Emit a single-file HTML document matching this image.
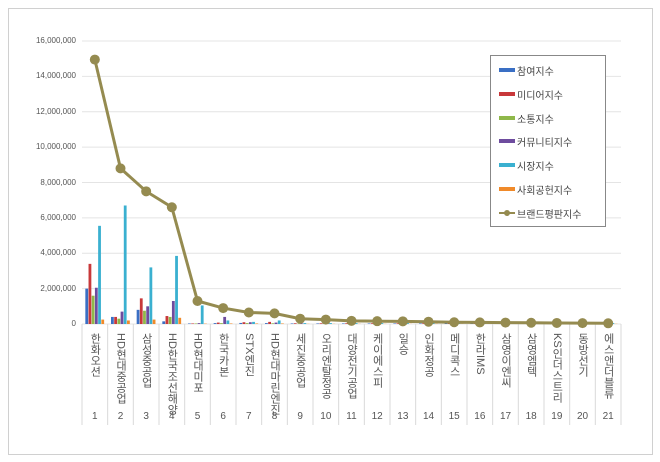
<!DOCTYPE html>
<html><head><meta charset="utf-8"><style>
body{margin:0;background:#fff;width:660px;height:462px;overflow:hidden;font-family:"Liberation Sans","Noto Sans CJK KR",sans-serif}
#c{position:absolute;left:0;top:0}
.lab{position:absolute;top:333px;writing-mode:vertical-rl;text-orientation:mixed;font-size:11px;color:#555;line-height:12px;font-family:"Liberation Sans","Noto Sans CJK KR",sans-serif;letter-spacing:0px}
.num{position:absolute;top:411px;font-size:10px;color:#555;width:26px;text-align:center}
.yl{position:absolute;font-size:8px;color:#555;text-align:right;width:70px;left:6px}
.lg{position:absolute;left:490px;top:55px;width:114px;height:170px;border:1px solid #888;background:#fff}
.li{position:absolute;left:26px;font-size:10px;color:#444}
.sw{position:absolute;left:-18px;top:5px;width:16px;height:4px}
</style></head><body>
<svg id="c" width="660" height="462"></svg>
<div id="h"></div>
<script>
const svg=document.getElementById('c');let s='';
s+='<rect x="8.5" y="8.5" width="644" height="446" fill="#fff" stroke="#d0d0d0"/>';
const x0=82,x1=621,yb=324,yt=41,cw=(x1-x0)/21;
const Y=v=>yb-(v/16e6)*(yb-yt);
let h='';
for(let i=0;i<=8;i++){const y=Y(i*2e6);s+=`<line x1="${x0}" x2="${x1}" y1="${y}" y2="${y}" stroke="#e4e4e4"/>`;
h+=`<div class="yl" style="top:${y-5}px">${(i*2e6).toLocaleString('en-US')}</div>`;}
for(let i=0;i<=21;i++){const x=x0+i*cw;s+=`<line x1="${x}" x2="${x}" y1="${yb}" y2="425" stroke="#d9d9d9"/>`;}
const cols=['#3a6fc4','#c8383a','#8fb84a','#6e4c9e','#3ab0d0','#f08a2a'];
const bars=[[2.0,3.4,1.6,2.05,5.55,0.25],[0.4,0.4,0.3,0.7,6.7,0.2],[0.8,1.45,0.75,1.0,3.2,0.25],[0.15,0.45,0.4,1.3,3.85,0.35],[0.03,0.03,0.03,0.05,1.05,0.02],[0.05,0.08,0.05,0.4,0.2,0.03],[0.06,0.1,0.05,0.1,0.12,0.03],[0.05,0.12,0.04,0.08,0.2,0.03]];
for(let i=0;i<21;i++){const b=bars[i]||[0.03,0.04,0.02,0.03,0.05,0.01];const cx=x0+i*cw+cw/2;
b.forEach((v,j)=>{const x=cx-9.5+j*3.2;s+=`<rect x="${x}" y="${Y(v*1e6)}" width="2.8" height="${yb-Y(v*1e6)}" fill="${cols[j]}"/>`;});}
const L=[14.95,8.8,7.5,6.6,1.3,0.9,0.65,0.6,0.3,0.25,0.18,0.16,0.15,0.13,0.1,0.09,0.08,0.07,0.06,0.05,0.04];
let p=L.map((v,i)=>`${x0+i*cw+cw/2},${Y(v*1e6)}`).join(' ');
s+=`<polyline points="${p}" fill="none" stroke="#958b50" stroke-width="3"/>`;
L.forEach((v,i)=>{s+=`<circle cx="${x0+i*cw+cw/2}" cy="${Y(v*1e6)}" r="5" fill="#958b50"/>`;});
svg.innerHTML=s;
const names=['한화오션','HD현대중공업','삼성중공업','HD한국조선해양','HD현대미포','한국카본','STX엔진','HD현대마린엔진','세진중공업','오리엔탈정공','대양전기공업','케이에스피','일승','인화정공','메디콕스','한라IMS','삼영이엔씨','삼영엠텍','KS인더스트리','동방선기','에스앤더블류'];
names.forEach((n,i)=>{const cx=x0+i*cw+cw/2;h+=`<div class="lab" style="left:${cx-6}px">${n}</div><div class="num" style="left:${cx-13}px">${i+1}</div>`;});
const lg=['참여지수','미디어지수','소통지수','커뮤니티지수','시장지수','사회공헌지수','브랜드평판지수'];
h+='<div class="lg">';
lg.forEach((n,i)=>{const sw=i<6?`<div class="sw" style="background:${cols[i]}"></div>`:`<div class="sw" style="background:#958b50;height:2px;top:6px"></div><div style="position:absolute;left:-13px;top:4px;width:6px;height:6px;border-radius:50%;background:#958b50"></div>`;
h+=`<div class="li" style="top:${7+i*23.8}px">${sw}${n}</div>`;});
h+='</div>';
document.getElementById('h').innerHTML=h;
</script>
</body></html>
